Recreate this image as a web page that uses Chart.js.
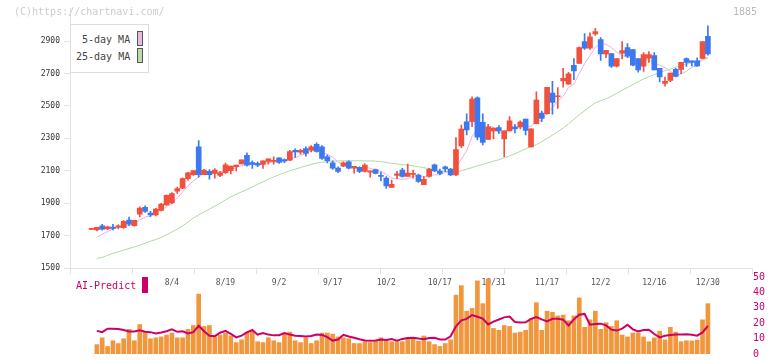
<!DOCTYPE html>
<html>
<head>
<meta charset="utf-8">
<script src="https://cdn.jsdelivr.net/npm/chart.js@4"></script>
<style>
body{margin:0;background:#fff;width:772px;height:361px;position:relative;overflow:hidden;font-family:"DejaVu Sans Mono",monospace}
canvas{position:absolute;left:0;top:0}
.t{position:absolute;font-size:10px;line-height:12px;white-space:nowrap}
.sw{position:absolute;box-sizing:border-box}
</style>
</head>
<body>
<canvas id="main" width="772" height="361"></canvas>
<canvas id="vol" width="772" height="361"></canvas>
<div class="t" style="left:14px;top:6px;color:#cccccc">(C)https://chartnavi.com/</div>
<div class="t" style="left:733px;top:6px;color:#bbbbbb">1885</div>
<div class="sw" style="left:70px;top:24px;width:79px;height:49px;border:1px solid #dddddd;background:#fff"></div>
<div class="t" style="left:82px;top:34px;color:#444">5-day MA</div>
<div class="t" style="left:76px;top:51px;color:#444">25-day MA</div>
<div class="sw" style="left:137px;top:31px;width:6px;height:15px;border:1px solid #555;background:#e8b8e8"></div>
<div class="sw" style="left:137px;top:48px;width:6px;height:15px;border:1px solid #555;background:#b8dcb0"></div>
<div class="t" style="left:76px;top:280px;color:#cc0066">AI-Predict</div>
<div class="sw" style="left:142px;top:277px;width:6px;height:16px;background:#cc0066"></div>
<script>
const dates = ['7/11','7/14','7/15','7/16','7/17','7/18','7/22','7/23','7/24','7/25',
  '7/28','7/29','7/30','7/31','8/1','8/4','8/5','8/6','8/7','8/8',
  '8/12','8/13','8/14','8/15','8/18','8/19','8/20','8/21','8/22','8/25',
  '8/26','8/27','8/28','8/29','9/1','9/2','9/3','9/4','9/5','9/8',
  '9/9','9/10','9/11','9/12','9/16','9/17','9/18','9/19','9/22','9/24',
  '9/25','9/26','9/29','9/30','10/1','10/2','10/3','10/6','10/7','10/8',
  '10/9','10/10','10/14','10/15','10/16','10/17','10/20','10/21','10/22','10/23',
  '10/24','10/27','10/28','10/29','10/30','10/31','11/4','11/5','11/6','11/7',
  '11/10','11/11','11/12','11/13','11/14','11/17','11/18','11/19','11/20','11/21',
  '11/25','11/26','11/27','11/28','12/1','12/2','12/3','12/4','12/5','12/8',
  '12/9','12/10','12/11','12/12','12/15','12/16','12/17','12/18','12/19','12/22',
  '12/23','12/24','12/25','12/26','12/29','12/30'];

const opens = [1738,1735,1760,1741,1752,1752,1749,1796,1762,1833,
  1874,1839,1827,1856,1890,1901,1974,1993,2052,2076,
  2248,2076,2097,2084,2072,2088,2101,2125,2143,2195,
  2150,2146,2139,2158,2158,2180,2170,2166,2227,2215,
  2237,2227,2264,2248,2186,2149,2117,2129,2156,2117,
  2121,2096,2092,2107,2070,2055,1998,2072,2105,2066,
  2078,2074,2015,2066,2137,2096,2125,2111,2074,2254,
  2403,2404,2551,2399,2293,2346,2367,2297,2346,2371,
  2371,2420,2248,2391,2457,2453,2579,2557,2655,2634,
  2751,2763,2898,2857,2945,2910,2822,2824,2746,2826,
  2861,2848,2793,2746,2795,2812,2732,2640,2658,2726,
  2726,2793,2779,2779,2793,2930];
const highs = [1741,1751,1770,1758,1770,1766,1792,1815,1794,1878,
  1884,1850,1868,1899,1952,1966,1999,2056,2091,2101,
  2287,2109,2107,2113,2097,2148,2129,2135,2168,2211,
  2162,2156,2162,2174,2186,2180,2174,2227,2235,2233,
  2248,2256,2272,2256,2198,2162,2125,2156,2162,2127,
  2125,2143,2100,2111,2092,2064,2043,2096,2115,2141,
  2105,2080,2064,2115,2141,2111,2129,2115,2305,2382,
  2452,2557,2557,2452,2387,2363,2379,2346,2434,2387,
  2408,2420,2359,2587,2469,2616,2653,2614,2732,2708,
  2792,2865,2947,2951,2980,2922,2844,2824,2793,2897,
  2885,2848,2793,2830,2836,2830,2732,2679,2703,2732,
  2769,2797,2779,2797,2897,2995];
const lows = [1736,1729,1733,1737,1735,1741,1745,1762,1758,1815,
  1843,1817,1821,1852,1886,1897,1960,1989,2042,2072,
  2060,2076,2048,2054,2064,2084,2080,2099,2143,2129,
  2115,2125,2115,2141,2141,2146,2150,2162,2182,2203,
  2190,2217,2215,2170,2149,2109,2088,2125,2111,2086,
  2088,2092,2060,2080,2037,1992,1998,2051,2060,2066,
  2055,2029,2015,2060,2094,2076,2094,2070,2070,2243,
  2321,2373,2291,2260,2293,2297,2330,2187,2346,2334,
  2359,2322,2248,2391,2404,2449,2449,2485,2616,2634,
  2663,2763,2849,2849,2935,2781,2799,2738,2742,2791,
  2799,2748,2709,2713,2769,2722,2648,2622,2650,2679,
  2699,2744,2748,2744,2793,2814];
const closes = [1740,1751,1739,1754,1745,1760,1788,1770,1794,1870,
  1850,1827,1864,1895,1948,1960,1991,2052,2087,2101,
  2076,2105,2076,2105,2088,2137,2129,2135,2168,2135,
  2139,2135,2162,2174,2164,2152,2160,2219,2217,2227,
  2207,2248,2219,2176,2162,2117,2096,2149,2117,2127,
  2096,2135,2100,2084,2066,2006,2017,2082,2066,2086,
  2084,2035,2047,2109,2100,2084,2111,2074,2231,2358,
  2352,2542,2307,2275,2371,2363,2346,2346,2408,2359,
  2401,2350,2359,2536,2424,2616,2522,2563,2671,2698,
  2716,2861,2857,2927,2959,2822,2844,2746,2793,2842,
  2808,2752,2722,2818,2818,2722,2679,2652,2703,2683,
  2769,2769,2769,2748,2897,2822];

// moving averages
const ma5 = [null,1690,1708,1724,1742,1750,1757,1763,1771,1796,
  1814,1822,1841,1861,1877,1899,1932,1969,2008,2038,
  2061,2084,2089,2093,2090,2102,2107,2119,2131,2141,
  2141,2142,2148,2149,2155,2157,2162,2174,2182,2195,
  2206,2224,2224,2215,2202,2184,2154,2140,2128,2121,
  2117,2125,2115,2108,2096,2078,2055,2051,2047,2051,
  2067,2071,2064,2072,2075,2075,2090,2096,2120,2172,
  2225,2311,2358,2367,2369,2372,2332,2340,2367,2364,
  2372,2373,2375,2401,2414,2457,2491,2532,2559,2614,
  2634,2702,2761,2812,2864,2885,2882,2860,2833,2809,
  2807,2788,2783,2788,2784,2766,2752,2738,2715,2688,
  2697,2715,2739,2748,2790,2801];
const ma25 = [null,1559,1566,1578,1590,1600,1610,1620,1630,1641,
  1653,1665,1676,1688,1705,1722,1740,1760,1784,1808,
  1827,1846,1864,1882,1900,1920,1940,1955,1970,1984,
  2000,2017,2032,2048,2062,2076,2088,2100,2110,2120,
  2130,2140,2148,2153,2157,2160,2161,2162,2162,2162,
  2162,2161,2161,2160,2156,2152,2146,2142,2138,2135,
  2130,2125,2119,2113,2107,2101,2097,2094,2092,2100,
  2110,2120,2131,2140,2150,2160,2168,2180,2192,2205,
  2220,2236,2248,2262,2280,2300,2320,2342,2364,2390,
  2418,2446,2470,2496,2520,2532,2545,2560,2578,2598,
  2614,2632,2650,2667,2680,2694,2707,2718,2728,2740,
  2750,2760,2768,2775,2786,2796];

const volume = [null,6.1,10.5,4.9,8.6,6.8,9.9,16.0,8.6,19.1,
  14.2,9.9,10.5,11.1,12.3,13.6,10.5,10.5,16.0,18.5,
  38.9,17.9,18.5,11.1,12.3,13.6,11.7,7.4,9.2,14.2,
  14.8,8.0,7.4,10.5,8.6,7.4,13.6,14.2,8.6,7.4,
  10.5,6.8,8.6,13.6,13.6,12.9,11.1,10.5,9.9,6.8,
  6.8,8.0,7.4,8.6,10.5,8.6,8.0,8.0,8.0,9.9,
  10.0,8.3,11.7,8.0,6.1,4.9,6.8,9.2,38.2,44.4,
  27.8,29.6,47.5,32.7,48.7,16.6,15.4,18.5,17.9,13.6,
  14.2,15.4,22.8,33.3,15.4,27.8,27.1,24.7,25.3,21.6,
  24.7,36.4,17.3,22.2,27.8,16.0,20.3,17.9,21.6,12.3,
  11.1,13.6,13.6,11.1,8.0,10.5,14.8,9.2,17.3,14.2,
  8.0,8.6,8.5,9.0,22.2,32.7];
const aiPredict = [null,15.0,14.2,16.4,16.4,16.2,15.6,14.6,14.6,15.4,
  14.4,14.2,13.4,14.0,14.8,16.0,14.4,14.8,13.4,14.2,
  18.3,14.8,11.9,11.6,13.8,15.0,13.0,10.8,11.9,14.0,
  15.6,12.5,13.6,12.6,12.1,12.2,13.6,12.6,11.8,11.7,
  11.3,11.7,12.6,12.4,11.0,8.7,9.4,12.5,11.4,10.5,
  9.6,8.8,8.6,8.8,9.4,9.1,9.7,8.7,9.8,10.4,
  10.5,10.0,9.6,10.4,10.5,9.4,9.4,11.5,18.0,21.9,
  22.8,25.3,24.2,23.0,19.2,21.0,22.4,23.8,24.3,20.8,
  20.5,20.6,22.8,24.0,22.5,21.2,22.9,22.9,22.3,18.5,
  22.5,25.5,26.0,19.0,19.5,19.7,18.6,15.8,15.2,16.5,
  19.0,16.0,14.6,15.6,15.8,13.0,10.8,11.8,12.3,12.6,
  12.7,12.8,12.5,11.9,14.0,18.3];

const tickDates = ['8/4','8/19','9/2','9/17','10/2','10/17','10/31','11/17','12/2','12/16','12/30'];
const priceTicks = [1500,1700,1900,2100,2300,2500,2700,2900];

const UP = '#f0503c', DOWN = '#3c78f0';
const AXIS = '#e2e2e2';
const FONT = 'DejaVu Sans Mono';
const X_MIN = -4.01, X_MAX = 123.23;

const candleColor = c => closes[c.dataIndex] >= opens[c.dataIndex] ? UP : DOWN;
const pts = arr => arr.map((v, i) => ({x: i, y: v}));

new Chart(document.getElementById('main'), {
  type: 'bar',
  data: {
    datasets: [
      {
        label: 'body',
        data: dates.map((d, i) => ({x: i, y: [opens[i], closes[i]]})),
        backgroundColor: candleColor,
        barThickness: 5,
        minBarLength: 1,
        grouped: false,
        order: 1,
        xAxisID: 'x', yAxisID: 'y'
      },
      {
        label: 'wick',
        data: dates.map((d, i) => ({x: i, y: [lows[i], highs[i]]})),
        backgroundColor: candleColor,
        barThickness: 1,
        grouped: false,
        order: 2,
        xAxisID: 'x', yAxisID: 'y'
      },
      {
        type: 'line', label: '5-day MA', data: pts(ma5),
        borderColor: '#e8b0e8', borderWidth: 1, pointRadius: 0,
        order: 3, xAxisID: 'x', yAxisID: 'y'
      },
      {
        type: 'line', label: '25-day MA', data: pts(ma25),
        borderColor: '#b0d8a4', borderWidth: 1, pointRadius: 0,
        order: 4, xAxisID: 'x', yAxisID: 'y'
      }
    ]
  },
  options: {
    responsive: false,
    animation: false,
    layout: {padding: {top: 8, right: 20, left: 0, bottom: 0}},
    plugins: {legend: {display: false}, tooltip: {enabled: false}},
    scales: {
      x: {
        type: 'linear', position: 'bottom', weight: 1,
        min: X_MIN, max: X_MAX, offset: false,
        grid: {display: false, drawTicks: false, offset: false},
        border: {display: false},
        afterBuildTicks: s => { s.ticks = tickDates.map(d => ({value: dates.indexOf(d)})); },
        afterFit: s => { s.height = 85; },
        ticks: {
          autoSkip: false, maxRotation: 0, padding: 2,
          color: '#555', font: {family: FONT, size: 8},
          callback: v => dates[v]
        }
      },
      xg: {
        type: 'linear', position: 'bottom', weight: 0,
        min: 0, max: 11, offset: false,
        grid: {drawOnChartArea: false, color: AXIS, tickLength: 6, offset: false},
        border: {color: AXIS, width: 1},
        afterFit: s => { s.height = 8; },
        ticks: {stepSize: 1, callback: () => '', font: {size: 1}}
      },
      y: {
        position: 'left', min: 1500, max: 3100,
        grid: {drawOnChartArea: false, color: AXIS, tickLength: 6},
        border: {color: AXIS, width: 1},
        afterBuildTicks: s => { s.ticks = priceTicks.map(v => ({value: v})); },
        afterFit: s => { s.width = 70; },
        ticks: {padding: 4, color: '#333', font: {family: FONT, size: 8}, callback: v => String(v)}
      }
    }
  }
});

new Chart(document.getElementById('vol'), {
  type: 'bar',
  data: {
    datasets: [
      {
        type: 'line', label: 'AI-Predict', data: pts(aiPredict),
        borderColor: '#cc0066', borderWidth: 2, pointRadius: 0,
        order: 1, xAxisID: 'x', yAxisID: 'y'
      },
      {
        label: 'volume', data: pts(volume),
        backgroundColor: '#f0963c', barThickness: 4,
        order: 2, xAxisID: 'x', yAxisID: 'y'
      }
    ]
  },
  options: {
    responsive: false,
    animation: false,
    layout: {padding: {top: 277, right: 0, left: 70, bottom: 3}},
    plugins: {legend: {display: false}, tooltip: {enabled: false}},
    scales: {
      x: {type: 'linear', min: X_MIN, max: X_MAX, offset: false, grid: {offset: false}, display: false},
      y: {
        position: 'right', min: 0, max: 50,
        grid: {display: false, drawTicks: false},
        border: {display: false},
        afterFit: s => { s.width = 20; },
        ticks: {stepSize: 10, padding: 1, color: '#cc0066', font: {family: FONT, size: 10}}
      }
    }
  }
});
</script>
</body>
</html>
